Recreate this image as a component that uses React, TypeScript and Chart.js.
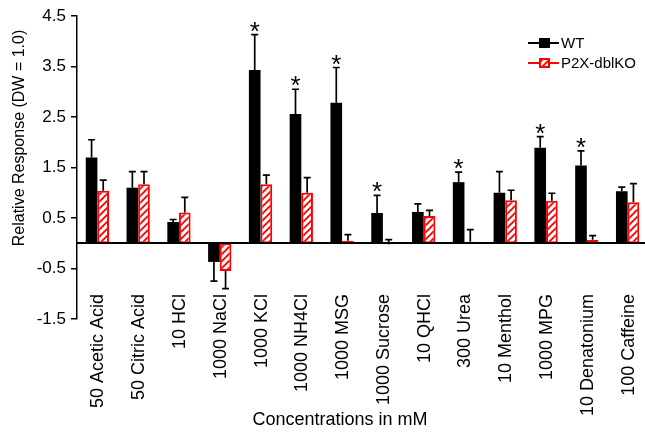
import React, { useEffect, useRef } from "react";
import { Chart, registerables } from "chart.js";

Chart.register(...registerables);

const categories = [
  "50 Acetic Acid",
  "50 Citric Acid",
  "10 HCl",
  "1000 NaCl",
  "1000 KCl",
  "1000 NH4Cl",
  "1000 MSG",
  "1000 Sucrose",
  "10 QHCl",
  "300 Urea",
  "10 Menthol",
  "1000 MPG",
  "10 Denatonium",
  "100 Caffeine",
];
const wtValues = [1.7, 1.1, 0.42, -0.37, 3.43, 2.56, 2.78, 0.6, 0.62, 1.21, 1.0, 1.89, 1.54, 1.03];
const wtErrors = [0.35, 0.32, 0.05, -0.38, 0.7, 0.49, 0.7, 0.35, 0.16, 0.2, 0.42, 0.22, 0.29, 0.08];
const koValues = [1.04, 1.17, 0.61, -0.55, 1.17, 1.0, 0.05, -0.02, 0.54, 0.03, 0.85, 0.84, 0.07, 0.81];
const koErrors = [0.21, 0.25, 0.3, -0.35, 0.18, 0.3, 0.12, 0.09, 0.11, 0.24, 0.2, 0.15, 0.08, 0.37];
const significant = [false, false, false, false, true, true, true, true, false, true, false, true, true, false];
const yTicks = [-1.5, -0.5, 0.5, 1.5, 2.5, 3.5, 4.5];
const seriesNames = ["WT", "P2X-dblKO"];
const xTitle = "Concentrations in mM";
const yTitle = "Relative Response (DW = 1.0)";

const FONT = "'Liberation Sans', Arial, sans-serif";
const RED = "#ff0000";

function makeHatch(): CanvasPattern | string {
  const c = document.createElement("canvas");
  c.width = 7;
  c.height = 7;
  const g = c.getContext("2d");
  if (!g) return "#fff";
  g.fillStyle = "#fff";
  g.fillRect(0, 0, 7, 7);
  g.strokeStyle = RED;
  g.lineWidth = 1.9;
  g.beginPath();
  g.moveTo(-1, 8);
  g.lineTo(8, -1);
  g.moveTo(-1, 1);
  g.lineTo(1, -1);
  g.moveTo(6, 8);
  g.lineTo(8, 6);
  g.stroke();
  return g.createPattern(c, "repeat") || "#fff";
}

export default function App() {
  const ref = useRef<HTMLCanvasElement | null>(null);

  useEffect(() => {
    if (!ref.current) return;
    const hatch = makeHatch();

    const overlay = {
      id: "overlay",
      afterDatasetsDraw(chart: any) {
        const ctx: CanvasRenderingContext2D = chart.ctx;
        const ys = chart.scales.y;
        const area = chart.chartArea;
        ctx.save();

        // error bars
        ctx.strokeStyle = "#000";
        ctx.lineWidth = 1.7;
        const sets: [number[], number[]][] = [
          [wtValues, wtErrors],
          [koValues, koErrors],
        ];
        sets.forEach(([vals, errs], di) => {
          const meta = chart.getDatasetMeta(di);
          meta.data.forEach((bar: any, i: number) => {
            const x = bar.x;
            const yv = ys.getPixelForValue(vals[i]);
            const ye = ys.getPixelForValue(vals[i] + errs[i]);
            ctx.beginPath();
            ctx.moveTo(x, yv);
            ctx.lineTo(x, ye);
            ctx.moveTo(x - 3.5, ye);
            ctx.lineTo(x + 3.5, ye);
            ctx.stroke();
          });
        });

        // zero line
        const y0 = Math.round(ys.getPixelForValue(0));
        ctx.lineWidth = 2;
        ctx.beginPath();
        ctx.moveTo(area.left, y0);
        ctx.lineTo(chart.width, y0);
        ctx.stroke();

        // asterisks
        ctx.fillStyle = "#000";
        ctx.font = `26px ${FONT}`;
        ctx.textAlign = "center";
        ctx.textBaseline = "alphabetic";
        const wtMeta = chart.getDatasetMeta(0);
        wtMeta.data.forEach((bar: any, i: number) => {
          if (!significant[i]) return;
          const ye = ys.getPixelForValue(wtValues[i] + wtErrors[i]);
          ctx.fillText("*", bar.x, ye + 5);
        });

        // x labels
        const xs = chart.scales.x;
        ctx.font = `18px ${FONT}`;
        ctx.textAlign = "right";
        ctx.textBaseline = "middle";
        categories.forEach((c, i) => {
          const cx = xs.getPixelForValue(i);
          ctx.save();
          ctx.translate(cx, 294);
          ctx.rotate(-Math.PI / 2);
          ctx.fillText(c, 0, 1);
          ctx.restore();
        });

        // x title
        ctx.font = `18px ${FONT}`;
        ctx.textAlign = "center";
        ctx.textBaseline = "middle";
        ctx.fillText(xTitle, 340, 420);

        // y title
        ctx.font = `16px ${FONT}`;
        ctx.save();
        ctx.translate(20, 138);
        ctx.rotate(-Math.PI / 2);
        ctx.fillText(yTitle, 0, 0);
        ctx.restore();

        // legend
        const rows = [43, 63];
        rows.forEach((ry, k) => {
          ctx.lineWidth = 2;
          ctx.strokeStyle = k === 0 ? "#000" : RED;
          ctx.beginPath();
          ctx.moveTo(528, ry);
          ctx.lineTo(559, ry);
          ctx.stroke();
          if (k === 0) {
            ctx.fillStyle = "#000";
            ctx.fillRect(539, ry - 5, 11, 10);
          } else {
            ctx.fillStyle = hatch as any;
            ctx.fillRect(539, ry - 5, 11, 10);
            ctx.strokeStyle = RED;
            ctx.lineWidth = 2;
            ctx.strokeRect(540, ry - 4, 9, 8);
          }
          ctx.fillStyle = "#000";
          ctx.font = `15px ${FONT}`;
          ctx.textAlign = "left";
          ctx.textBaseline = "middle";
          ctx.fillText(seriesNames[k], 561, ry + 1);
        });

        ctx.restore();
      },
    };

    const chart = new Chart(ref.current, {
      type: "bar",
      data: {
        labels: categories,
        datasets: [
          {
            label: seriesNames[0],
            data: wtValues,
            backgroundColor: "#000",
            borderWidth: 0,
            categoryPercentage: 0.571,
            barPercentage: 1.0,
          },
          {
            label: seriesNames[1],
            data: koValues,
            backgroundColor: hatch as any,
            borderColor: RED,
            borderWidth: 2,
            borderSkipped: false,
            categoryPercentage: 0.571,
            barPercentage: 1.0,
          },
        ],
      },
      options: {
        animation: false,
        responsive: false,
        devicePixelRatio: 1,
        layout: { padding: { left: 0, right: 2, top: 16, bottom: 116 } },
        plugins: { legend: { display: false }, tooltip: { enabled: false } },
        scales: {
          x: { display: false, offset: true },
          y: {
            min: -1.5,
            max: 4.5,
            afterBuildTicks: (s: any) => {
              s.ticks = yTicks.map((v) => ({ value: v }));
            },
            afterFit: (s: any) => {
              s.width = 77;
            },
            ticks: {
              font: { family: FONT, size: 17 },
              color: "#000",
              padding: 5,
              callback: (v: any) => Number(v).toFixed(1),
            },
            grid: {
              display: true,
              drawOnChartArea: false,
              drawTicks: true,
              tickLength: 6,
              color: "#000",
              lineWidth: 1.5,
            },
            border: { display: true, color: "#000", width: 1.5 },
          },
        },
      },
      plugins: [overlay],
    });

    return () => chart.destroy();
  }, []);

  return (
    <div
      style={{
        position: "fixed",
        left: 0,
        top: 0,
        width: 645,
        height: 435,
        overflow: "hidden",
        background: "#fff",
      }}
    >
      <canvas ref={ref} width={650} height={435} style={{ display: "block" }} />
    </div>
  );
}
